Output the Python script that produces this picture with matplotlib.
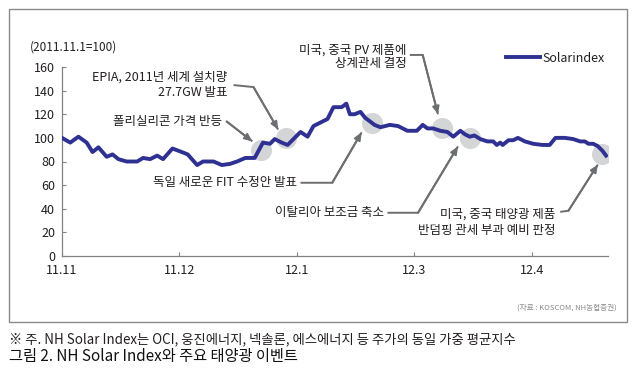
import matplotlib
matplotlib.use("Agg")
import matplotlib.pyplot as plt
from matplotlib.patches import Rectangle

plt.rcParams['font.family'] = ['Noto Sans CJK KR', 'DejaVu Sans']

# ---- data -------------------------------------------------------------
# x = months after 2011.11.1, value = index (2011.11.1 = 100)
month_pos = [0.00, 0.07, 0.14, 0.21, 0.26, 0.31, 0.38, 0.43, 0.48, 0.55,
             0.64, 0.69, 0.75, 0.81, 0.86, 0.94, 1.02, 1.07, 1.15, 1.20,
             1.29, 1.36, 1.43, 1.49, 1.56, 1.64, 1.71, 1.77, 1.81, 1.87,
             1.92, 1.97, 2.03, 2.09, 2.14, 2.20, 2.26, 2.31, 2.38, 2.42,
             2.45, 2.49, 2.54, 2.58, 2.62, 2.66, 2.71, 2.79, 2.86, 2.94,
             3.02, 3.07, 3.11, 3.16, 3.22, 3.28, 3.33, 3.39, 3.43, 3.47,
             3.51, 3.56, 3.62, 3.67, 3.70, 3.73, 3.75, 3.80, 3.84, 3.88,
             3.94, 4.01, 4.09, 4.15, 4.20, 4.28, 4.35, 4.41, 4.45, 4.48,
             4.52, 4.56, 4.60, 4.63]
solar_index = [100, 96, 101, 96, 88, 92, 84, 86, 82, 80,
               80, 83, 82, 85, 82, 91, 88, 86, 77, 80,
               80, 77, 78, 80, 83, 83, 96, 95, 99, 96,
               94, 99, 105, 101, 110, 113, 116, 126, 126, 129,
               120, 120, 122, 117, 114, 111, 109, 111, 110, 106,
               106, 111, 108, 108, 106, 105, 101, 106, 103, 101,
               102, 99, 97, 97, 94, 96, 94, 98, 98, 100,
               97, 95, 94, 94, 100, 100, 99, 97, 97, 95,
               95, 93, 89, 85]

tick_pos = [0, 1, 2, 3, 4]
tick_labels = ['11.11', '11.12', '12.1', '12.3', '12.4']
y_ticks = [0, 20, 40, 60, 80, 100, 120, 140, 160]

# event highlights (month position, index value)
event_x = [1.69, 1.91, 2.64, 3.23, 3.47, 4.60]
event_y = [90, 100, 113, 108, 100, 86]

# ---- figure -----------------------------------------------------------
W, H = 638, 373
fig = plt.figure(figsize=(W / 100, H / 100), dpi=100)
ax = fig.add_axes([62 / W, 1 - 256 / H, (608 - 62) / W, (256 - 67) / H])

txt = '#231f20'
navy = '#2e3192'
conn = '#6d6e71'

ax.scatter(event_x, event_y, s=230, color='#d4d5d7', zorder=1, linewidths=0)
ax.plot(month_pos, solar_index, color=navy, lw=2.8, zorder=3,
        solid_joinstyle='round', label='Solarindex')

ax.set_xlim(0, (608 - 62) / 117.5)
ax.set_ylim(0, 160)
ax.set_xticks(tick_pos)
ax.set_xticklabels(tick_labels)
ax.set_yticks(y_ticks)
for s in ['top', 'right']:
    ax.spines[s].set_visible(False)
for s in ['left', 'bottom']:
    ax.spines[s].set_color('#808285')
    ax.spines[s].set_linewidth(0.9)
ax.tick_params(axis='both', direction='in', length=3, width=0.8,
               color='#808285', labelsize=9, labelcolor=txt)
ax.tick_params(axis='x', pad=6)
ax.tick_params(axis='y', pad=5)

# y label
fig.text(30 / W, 1 - 47 / H, '(2011.11.1=100)', fontsize=8.5, color=txt,
         va='center', ha='left')

# legend
ax.legend(loc='center left', bbox_to_anchor=(495 / W, 1 - 58 / H),
          bbox_transform=fig.transFigure, frameon=False, fontsize=9,
          handlelength=2.7, handletextpad=0.2, labelcolor=txt)

# ---- annotations ------------------------------------------------------
fs = 9


def connector(points, text_lines, text_xy, lh=13.5):
    xs = [p[0] for p in points]
    ys = [p[1] for p in points]
    ax.plot(xs, ys, color=conn, lw=1.4, clip_on=False, zorder=2,
            solid_capstyle='butt')
    ax.annotate('', xy=points[-1], xytext=points[-2],
                arrowprops=dict(arrowstyle='-|>,head_length=0.45,head_width=0.2',
                                color=conn, lw=1.4, shrinkA=0, shrinkB=0),
                annotation_clip=False, zorder=2)
    tx, ty = text_xy
    for i, line in enumerate(text_lines):
        ax.annotate(line, xy=(tx, ty), xycoords='data',
                    xytext=(0, -i * lh), textcoords='offset points',
                    ha='right', va='center', fontsize=fs, color=txt,
                    annotation_clip=False)


connector([(1.46, 144.7), (1.63, 143.0), (1.84, 107.0)],
          ['EPIA, 2011년 세계 설치량', '27.7GW 발표'], (1.41, 151.0), lh=11)
connector([(1.40, 114.0), (1.62, 97.0)],
          ['폴리실리콘 가격 반등'], (1.36, 114.0))
connector([(2.03, 62.0), (2.30, 62.0), (2.55, 104.7)],
          ['독일 새로운 FIT 수정안 발표'], (2.00, 62.0))
connector([(2.77, 36.6), (3.03, 36.6), (3.37, 92.8)],
          ['이탈리아 보조금 축소'], (2.74, 36.6))
connector([(2.96, 170.2), (3.07, 170.2), (3.20, 120.0)],
          ['미국, 중국 PV 제품에', '상계관세 결정'], (2.93, 174.5), lh=9.5)
connector([(4.24, 37.4), (4.31, 38.3), (4.56, 77.4)],
          ['미국, 중국 태양광 제품', '반덤핑 관세 부과 예비 판정'], (4.20, 35.7), lh=12)

# source
fig.text(617 / W, 1 - 308 / H, '(자료 : KOSCOM, NH농협증권)', fontsize=5.5,
         color='#8a8a8a', ha='right', va='center')

# frame
fig.patches.append(Rectangle((9 / W, 1 - 322 / H), (627 - 9) / W, (322 - 9) / H,
                             transform=fig.transFigure, fill=False,
                             edgecolor='#8a8a8a', lw=1.0))

# footnote and caption
fig.text(9 / W, 1 - 339 / H,
         '※ 주. NH Solar Index는 OCI, 웅진에너지, 넥솔론, 에스에너지 등 주가의 동일 가중 평균지수',
         fontsize=9.6, color=txt, ha='left', va='center')
fig.text(9 / W, 1 - 357 / H, '그림 2. NH Solar Index와 주요 태양광 이벤트',
         fontsize=11, color='#111111', ha='left', va='center')

fig.savefig('out.png', dpi=100)
